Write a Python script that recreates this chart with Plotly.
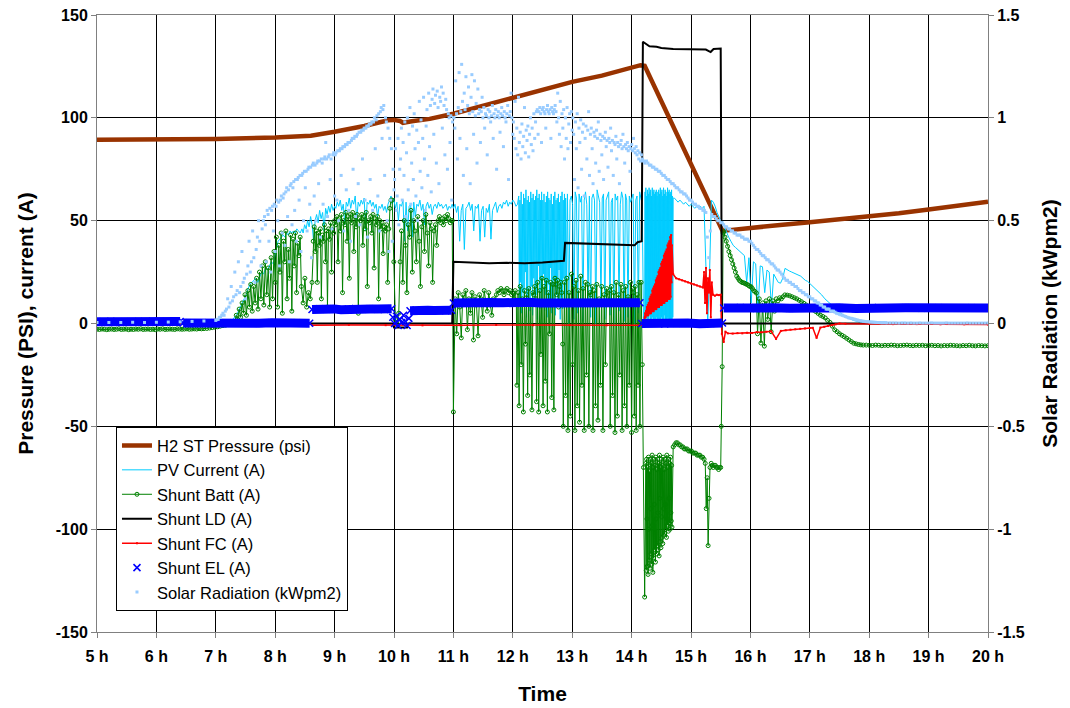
import numpy as np
import plotly.graph_objects as go

# ---- axis ticks -------------------------------------------------------------
tick_hours = list(range(5, 21))
tick_labels = [f"{h} h" for h in tick_hours]
left_ticks = [-150, -100, -50, 0, 50, 100, 150]
left_tick_labels = ["-150", "-100", "-50", "0", "50", "100", "150"]
right_ticks = [-1.5, -1.0, -0.5, 0.0, 0.5, 1.0, 1.5]
right_tick_labels = ["-1.5", "-1", "-0.5", "0", "0.5", "1", "1.5"]

# ---- H2 storage tank pressure (psi) ----------------------------------------
pressure_time = [5.0, 6.0, 6.5, 7.0, 8.0, 8.6, 9.0, 9.5, 9.9, 10.0, 10.1, 10.15, 10.3,
                 10.6, 11.0, 11.5, 12.0, 12.5, 13.0, 13.5, 14.0, 14.15, 14.22, 15.53,
                 15.65, 16.0, 16.5, 17.0, 17.5, 18.0, 18.5, 19.0, 19.5, 20.0]
pressure_psi = [89.3, 89.3, 89.5, 89.7, 90.4, 91.3, 93.2, 96.0, 98.8, 99.0, 98.5, 97.6, 98.3,
                99.5, 102.0, 105.8, 110.0, 113.8, 117.5, 120.5, 124.0, 125.6, 125.3, 45.0,
                45.4, 46.6, 47.9, 49.2, 50.5, 51.9, 53.6, 55.4, 57.3, 59.2]

# ---- load shunt current (A) -------------------------------------------------
ld_time = [5.0, 9.98, 10.0, 10.22, 10.24, 10.98, 11.0, 11.3, 11.6, 11.9, 12.2, 12.5, 12.86,
           12.88, 13.2, 13.5, 13.8, 14.05, 14.1, 14.17, 14.19, 14.25, 14.3, 14.42, 14.5,
           14.7, 15.0, 15.25, 15.33, 15.38, 15.5, 15.52, 20.0]
ld_amps = [0.0, 0.0, -2.0, -2.0, 0.0, 0.0, 30.0, 29.8, 29.3, 29.5, 29.3, 29.6, 30.5,
           39.2, 38.8, 38.5, 38.2, 38.0, 39.5, 40.0, 137.0, 136.0, 134.8, 134.6, 134.0,
           133.5, 133.4, 133.2, 132.0, 133.5, 133.7, 0.0, 0.0]

# Logged blocks: (first hour, last hour, readings taken at an even interval)
pv_blocks = [
    (5.0, 7.2, [0.3, 0.3, 0.3, 0.4, 0.4, 0.5, 0.6, 0.8]),
    (7.25, 8.0, [1, 2, 3, 4, 6, 8, 10, 12, 14, 17, 19, 20, 21, 22, 20, 23, 25, 24, 27, 26, 28, 30, 29, 33]),
    (8.02, 8.45, [36, 40, 41, 42, 43, 42, 44, 43, 45, 44, 45, 44, 46, 45, 44, 46]),
    (8.47, 9.0, [44, 48, 46, 50, 47, 52, 48, 40, 50, 53, 49, 55, 51, 54, 45, 56, 53, 57, 54, 58, 55, 57]),
    (9.02, 9.95, [56, 59, 57, 60, 55, 58, 48, 59, 57, 61, 56, 60, 58, 62, 50, 59, 57, 60, 58, 61, 45,
                  59, 58, 60, 57, 59, 56, 58, 52, 57, 56, 58, 55, 57, 54, 58, 60, 62]),
    (9.97, 10.98, [58, 61, 56, 59, 50, 58, 57, 60, 40, 59, 45, 57, 58, 42, 59, 52, 58, 57, 60, 55,
                   58, 48, 57, 59, 56, 58, 53, 57, 58, 56, 59, 57, 58, 56, 57, 58, 55, 57, 56, 58]),
    (11.0, 12.08, [56, 58, 54, 57, 40, 55, 58, 36, 56, 57, 59, 55, 58, 45, 57, 56, 58, 40, 55, 57, 42,
                   56, 54, 58, 41, 55, 57, 59, 54, 57, 58, 56, 59, 58, 60, 57, 59, 58, 60, 59, 57, 58]),
    (12.1, 12.9, [62, 10, 60, 20, 64, 5, 58, 15, 63, 8, 61, 25, 65, 3, 60, 12, 62, 30, 59, 6,
                  64, 18, 61, 4, 63, 22, 60, 9, 62, 14, 65, 2, 61, 28, 63, 7, 60, 16, 64, 11,
                  60, 24, 63, 6, 59, 14, 62, 3, 64, 19, 61, 8, 60, 27, 63, 5, 58, 12, 62, 21,
                  64, 4, 60, 17, 61, 9, 63, 26, 59, 2, 62, 13, 64, 7, 60, 22, 63, 10, 61, 15]),
    (12.92, 14.2, [63, 0, 60, 62, 58, 2, 64, 61, 5, 63, 59, 62, 1, 60, 64, 58, 10, 62, 3, 61,
                   63, 60, 0, 65, 62, 59, 8, 61, 63, 2, 60, 62, 64, 4, 59, 61, 0, 63, 60, 62,
                   6, 58, 64, 61, 1, 63, 60, 3, 62, 59, 61, 63, 0, 60, 62, 5, 64, 61, 58, 2]),
    (14.22, 14.7, [2, 64, 1, 66, 3, 62, 0, 65, 2, 63, 1, 66, 4, 64, 0, 65, 2, 62, 1, 66,
                   3, 64, 0, 65, 2, 63, 1, 64, 0, 65, 3, 62, 1, 64, 2, 65,
                   1, 63, 2, 66, 0, 64, 3, 65, 1, 62, 2, 66, 0, 63, 4, 65, 1, 64, 2, 62,
                   0, 66, 3, 64, 1, 65, 2, 63, 0, 64, 2, 65, 1, 62, 3, 61]),
    (14.72, 15.5, [61, 60, 59, 60, 59, 58, 59, 58, 57, 58, 57, 56, 57, 56, 57, 56, 57, 30, 0, 25,
                   60, 59, 57, 54, 52, 50]),
    (15.52, 17.0, [50, 47, 44, 42, 40, 38, 37, 36, 35, 34, 33, 20, 32, 10, 30, 29, 5, 28, 27.6, 15,
                   26, 25, 8, 24, 22, 20, 19.6, 22, 26.8, 26, 25.5, 25, 24.5, 24, 23.6, 23, 22, 21,
                   20.5, 19.5]),
    (17.04, 17.95, [18.5, 17, 15.5, 13.9, 12, 10.5, 9, 7.5, 6, 5, 4, 3, 2.2, 1.5, 1, 0.7, 0.5, 0.4]),
    (18.0, 20.0, [0.3, 0.2, 0.2, 0.1, 0.1]),
]

batt_blocks = [
    (5.0, 6.8, [-2.8, -2.9, -2.7, -2.8, -3.0, -2.8, -2.7, -2.9, -2.8, -2.6, -2.9, -2.8, -2.7, -3.0,
                -2.8, -2.9, -2.7, -2.8, -2.6, -2.9, -2.8, -2.7, -2.9, -2.8, -3.0, -2.7, -2.8, -2.6,
                -2.9, -2.8, -2.7, -2.8, -2.9, -2.6, -2.7, -2.8, -2.7, -2.6, -2.8, -2.7, -2.6, -2.7,
                -2.5, -2.6, -2.5]),
    (6.85, 7.3, [-2.4, -2.2, -2.0, -1.8, -1.6, -1.3, -1.0, -0.8, -0.5, -0.2, 0.0]),
    (7.32, 7.98, [1, 4, 2, 7, 3, 10, 5, 14, 4, 16, 8, 19, 6, 18, 10, 22, 7, 25, 12, 28, 9, 30, 14,
                  27, 8, 32, 12, 35]),
    (8.0, 8.42, [20, 42, 8, 38, 25, 44, 5, 40, 30, 45, 12, 36, 22, 43, 6, 41, 28, 44, 15, 39, 33, 42]),
    (8.44, 8.62, [18, 10, 22, 8, 15, 12, 20]),
    (8.64, 9.0, [40, 47, 35, 45, 20, 44, 38, 46, 12, 43, 40, 48, 30, 45, 8, 46, 41, 49, 25, 47, 44, 50]),
    (9.02, 9.95, [48, 52, 30, 51, 45, 53, 15, 50, 48, 54, 40, 52, 22, 53, 49, 54, 35, 52, 47, 53, 5,
                  51, 50, 53, 38, 52, 46, 54, 18, 50, 49, 52, 44, 53, 27, 51, 48, 52, 12, 50, 46, 49,
                  34, 47, 45, 48, 20, 46, 56, 60]),
    (9.97, 10.05, [60, 30, 2, 0]),
    (10.08, 10.97, [5, 30, 45, 20, 50, 38, 15, 48, 42, 55, 25, 50, 45, 30, 52, 40, 18, 47, 50, 35,
                    53, 44, 28, 49, 46, 20, 45, 48, 38, 50, 52, 49, 51, 48, 52, 50, 53, 51, 49, 50]),
    (10.98, 11.02, [50, -43, 10]),
    (11.03, 11.98, [12, -5, 15, 8, -7, 14, 10, 16, -3, 12, 5, 15, -8, 13, 9, -6, 14, 12, 3, 16, 11,
                    6, 15, 9, 4, 12, 10, 14, 16, 15, 17, 16, 14, 16, 17, 15, 16, 14]),
    (12.0, 12.06, [15, 12, 16, 10]),
    (12.07, 12.34, [-30, 15, -40, 18, -20, 12, -43, 16, -10, 14, -35, 17, -25, 10, -42, 15]),
    (12.35, 12.39, [14, 18, 12]),
    (12.40, 12.71, [-38, 20, -43, 16, -15, 22, -40, 18, -28, 21, -43, 15, -5, 20, -36, 19, -42, 22]),
    (12.72, 12.84, [19, 14, 21, 8, 18, 20, 15, -10]),
    (12.85, 13.30, [-50, 20, -35, 22, -52, 15, -45, 24, -20, 18, -52, 21, -40, 16, -48, 23, -30, 17,
                    -52, 20, -25, 19, -50, 15]),
    (13.31, 13.34, [14, 18]),
    (13.35, 13.58, [-52, 16, -40, 19, -47, 12, -30, 18, -52, 14, -20, 17]),
    (13.59, 13.63, [15, 11, 16]),
    (13.64, 14.02, [-50, 18, -35, 15, -53, 20, -45, 14, -25, 19, -52, 16, -40, 18, -50, 13, -30, 20,
                    -53, 17]),
    (14.03, 14.14, [15, -45, 18, -52, 14, -30, 20, -50]),
    (14.16, 14.22, [20, -20, -70, -133]),
    (14.24, 14.68, [-68, -120, -66, -95, -118, -70, -122, -65, -100, -115, -72, -119, -66, -90, -112,
                    -68, -117, -64, -98, -121, -70, -114, -66, -88, -110, -69, -116, -65, -95, -112,
                    -71, -108, -66, -92, -110, -68, -113, -64, -85, -106, -70, -109, -66, -94, -104,
                    -69, -107, -65, -90, -103, -71, -102, -66, -88, -100, -68, -104, -64, -95, -98,
                    -70, -101, -66, -85, -97, -68, -100, -65, -92, -96, -69, -99]),
    (14.7, 15.22, [-60, -59, -58, -58, -59, -59, -60, -60, -61, -61, -61, -62, -62, -62, -63, -63,
                   -63, -64, -64, -64, -65, -65, -66]),
    (15.24, 15.32, [-68, -90, -75, -108, -85, -70]),
    (15.34, 15.5, [-68, -69, -70, -69, -69, -70, -70, -71, -70, -70]),
    (15.51, 15.54, [-50, -21, 44]),
    (15.55, 16.1, [44.6, 42, 40, 37.5, 35, 33, 31, 29, 27, 25, 23, 22, 21, 20.5, 20, 19.8, 19.6,
                   19.2, 19, 18.5, 18, 17.9, 17, 16, 15.5, 14.8]),
    (16.12, 16.55, [-5, 12, -9.5, 10, -11, 11, 2, 12, -4, 11, 6, 12, 11, 12.5, 12, 13]),
    (16.58, 17.9, [13.9, 13.8, 13.5, 13, 12.5, 12, 11.3, 10.6, 9.8, 9, 8.3, 7.5, 6.6, 5.8, 4.9, 4,
                   3.4, 2.7, 1.5, 0.5, -1.3, -3.1, -4, -5, -5.7, -6.4, -7.2, -8, -8.8, -9.6, -9.9,
                   -10.2, -10.4, -10.5]),
    (17.95, 20.0, [-10.5, -10.6, -10.7, -10.5, -10.6, -10.8, -10.6, -10.7, -10.5, -10.6, -10.8, -10.7,
                   -10.6, -10.5, -10.7, -10.8, -10.6, -10.7, -10.6, -10.8, -10.7, -10.6, -10.8, -10.7,
                   -10.9, -10.7, -10.8, -10.6, -10.7, -10.8, -10.9, -10.7, -10.8, -10.6, -10.8, -10.9,
                   -10.7, -10.8, -10.9, -10.8]),
]

fc_blocks = [
    (5.0, 8.58, [0.0, 0.1, 0.0, 0.1, 0.0]),
    (8.62, 14.2, [-0.8, -0.7, -0.8, -0.9, -0.8, -0.7, -0.8, -0.8, -0.9, -0.8]),
    (14.22, 14.68, [3, 5, 3, 6, 4, 8, 4, 9, 4, 10, 5, 12, 5, 13, 5, 14, 6, 16, 6, 17, 6, 18, 7, 19,
                    7, 21, 7, 22, 8, 23, 8, 25, 8, 26, 9, 27, 9, 29, 9, 30, 10, 31, 10, 33, 10, 34,
                    11, 35, 11, 36, 11, 38, 12, 39, 12, 40, 12, 42, 13, 43, 20, 38]),
    (14.7, 15.2, [24, 22, 21.5, 21, 20.5, 20, 19.5, 19, 18.5, 18, 17.5]),
    (15.22, 15.35, [25, 10, 27, 5, 22, 15, 26, 3, 20]),
    (15.37, 15.5, [14, 13.5, 14, 13.8, 14]),
    (15.52, 15.58, [-5, -9, -4]),
    (15.62, 17.0, [-4.8, -4.9, -4.7, -4.8, -4.5, -4.6, -4.2, -4.3, -4.0, -3.8, -7.5, -3.6, -3.3, -3.0,
                   -2.8, -2.6, -2.4, -2.2]),
    (17.05, 17.5, [-2.1, -7, -2.0, -1.6, -1.2, -0.8, -0.4, 0.0]),
    (17.6, 20.0, [-0.1, -0.2, -0.3, -0.3, -0.4, -0.4, -0.5]),
]

# Electrolyser current: steady levels, then the short switching burst around 10 h
el_blocks = [
    (5.0, 6.4, [0.9, 1.1, 0.8, 1.0, 1.1, 0.9, 1.0]),
    (6.45, 8.58, [0.3, 0.1, 0.4, 0.0, 0.3, 0.2, 0.1, 0.4, 0.2, 0.3, 0.1]),
    (8.62, 9.96, [6.8, 7.2, 6.9, 7.1, 6.7, 7.0, 7.3, 6.9, 7.1, 7.0, 6.8, 7.2]),
    (10.27, 10.97, [6.2, 6.5, 6.1, 6.4, 6.3, 6.6, 6.2, 6.4]),
    (11.0, 14.14, [10.0, 10.4, 9.8, 10.2, 10.1, 9.7, 10.3, 10.0, 9.9, 10.2, 10.1, 9.8, 10.0, 10.3,
                   9.9, 10.1]),
    (14.17, 15.53, [0.0, 0.3, -0.2, 0.1, 0.2, -0.1, 0.0, 0.2]),
    (15.55, 20.0, [7.5, 7.8, 7.3, 7.6, 7.4, 7.7, 7.5, 7.6, 7.3, 7.8, 7.5, 7.6, 7.4, 7.7, 7.5, 7.6, 7.5]),
]
el_burst_time = [9.98, 10.01, 10.04, 10.07, 10.1, 10.13, 10.16, 10.19, 10.22, 10.25]
el_burst_amps = [3.0, 0.0, 3.5, -1.0, 2.0, 0.5, 4.0, 1.0, -1.0, 2.5]

# Solar radiation (kW/m2)
solar_blocks = [
    (5.0, 7.0, [0.005, 0.005, 0.005, 0.006, 0.005, 0.006, 0.007, 0.008, 0.01, 0.012, 0.015]),
    (7.02, 7.8, [0.02, 0.02, 0.03, 0.03, 0.04, 0.05, 0.04, 0.06, 0.07, 0.12, 0.08, 0.10, 0.18, 0.11,
                 0.13, 0.25, 0.14, 0.16, 0.30, 0.15, 0.18, 0.35, 0.20, 0.22, 0.12, 0.24, 0.28, 0.40,
                 0.25, 0.30, 0.45, 0.32, 0.20, 0.36, 0.42, 0.50, 0.40, 0.28, 0.46, 0.50]),
    (7.82, 9.0, [0.52, 0.48, 0.30, 0.55, 0.53, 0.40, 0.56, 0.25, 0.55, 0.57, 0.45, 0.58, 0.35, 0.57,
                 0.60, 0.50, 0.59, 0.28, 0.60, 0.62, 0.44, 0.61, 0.63, 0.38, 0.64, 0.66, 0.52, 0.65,
                 0.30, 0.67, 0.68, 0.48, 0.66, 0.69, 0.55, 0.70, 0.40, 0.70, 0.71, 0.60, 0.72, 0.35,
                 0.72, 0.73, 0.50, 0.74, 0.66, 0.74, 0.45, 0.75, 0.76, 0.58, 0.76, 0.32, 0.77, 0.78,
                 0.62, 0.77, 0.50, 0.78, 0.79, 0.68, 0.79, 0.42, 0.80, 0.78, 0.58, 0.80, 0.81, 0.88,
                 0.80, 0.52, 0.81, 0.82, 0.70, 0.80, 0.46, 0.82, 0.83, 0.62]),
    (9.01, 10.0, [0.82, 0.83, 0.60, 0.84, 0.50, 0.84, 0.85, 0.72, 0.85, 0.86, 0.45, 0.86, 0.87, 0.65,
                  0.87, 0.88, 0.55, 0.88, 0.40, 0.89, 0.90, 0.75, 0.90, 0.91, 0.52, 0.91, 0.92, 0.68,
                  0.93, 0.48, 0.93, 0.94, 0.80, 0.94, 0.95, 0.60, 0.95, 0.96, 0.42, 0.96, 0.97, 0.70,
                  0.97, 0.98, 0.55, 0.98, 1.00, 0.85, 0.99, 1.01, 0.62, 1.02, 0.45, 1.03, 1.05, 0.90,
                  1.04, 1.06, 0.72, 1.00, 0.98, 0.50, 0.95, 0.35, 0.90, 0.60, 0.85, 0.40, 0.75, 0.65]),
    (10.01, 11.0, [0.70, 0.85, 0.55, 0.62, 0.90, 0.48, 0.75, 0.80, 0.95, 0.60, 0.88, 0.72, 0.98, 0.52,
                   0.83, 1.00, 0.65, 0.92, 1.05, 0.58, 0.78, 0.96, 0.70, 1.02, 0.85, 0.62, 0.94, 0.50,
                   0.88, 1.08, 0.74, 0.99, 0.66, 0.90, 1.10, 0.80, 0.55, 0.96, 1.04, 0.72, 1.12, 0.86,
                   1.06, 0.64, 1.09, 1.14, 0.92, 1.07, 1.11, 0.78, 1.13, 1.05, 0.68, 1.10, 1.08, 1.15,
                   0.95, 1.12, 1.06, 0.82, 1.09, 1.04, 0.75, 1.02, 1.00, 0.88, 1.01, 0.60, 0.98, 1.00]),
    (11.01, 12.0, [1.00, 0.95, 1.18, 1.02, 0.80, 1.05, 1.22, 0.90, 1.03, 1.26, 1.08, 0.72, 1.12, 1.04,
                   1.20, 0.85, 1.06, 1.15, 1.02, 0.68, 1.10, 1.21, 1.03, 0.92, 1.18, 1.01, 1.07, 0.78,
                   1.14, 1.02, 1.04, 0.88, 1.03, 1.10, 1.00, 1.05, 0.95, 1.02, 1.01, 0.82, 1.04, 1.00,
                   1.03, 0.98, 1.01, 1.06, 0.90, 1.02, 1.00, 1.04, 0.75, 1.01, 1.03, 1.00, 0.93, 1.02,
                   1.05, 1.01, 0.86, 1.03, 1.00, 0.98, 1.02, 1.06, 0.70, 1.01, 1.03, 1.12, 1.00, 0.92]),
    (12.01, 13.0, [0.98, 0.90, 1.08, 0.85, 0.95, 0.82, 1.10, 0.88, 0.93, 0.80, 0.97, 0.86, 0.91, 1.05,
                   0.83, 0.94, 0.89, 0.96, 0.81, 0.92, 1.00, 0.87, 0.95, 0.84, 1.02, 0.90, 0.98, 1.03,
                   1.04, 0.92, 1.03, 1.05, 1.02, 0.88, 1.04, 1.05, 1.03, 1.02, 0.95, 1.04, 1.06, 1.03,
                   1.02, 1.04, 0.90, 1.05, 1.03, 1.02, 1.04, 1.06, 1.03, 0.98, 1.12, 1.00, 0.92, 1.08,
                   0.86, 1.02, 0.95, 1.04, 0.80, 1.00, 0.90, 1.05, 0.85, 0.97, 1.02, 0.88, 1.03, 0.94]),
    (13.01, 14.18, [1.00, 0.92, 0.70, 0.98, 0.85, 1.02, 0.66, 0.95, 0.88, 0.99, 0.75, 0.93, 0.97, 0.62,
                    0.90, 0.96, 0.80, 0.94, 1.03, 0.72, 0.92, 0.95, 0.85, 0.68, 0.93, 0.91, 0.78, 0.94,
                    0.90, 0.98, 0.74, 0.92, 0.89, 0.82, 0.91, 0.70, 0.90, 0.93, 0.86, 0.89, 0.76, 0.90,
                    0.88, 0.95, 0.84, 0.89, 0.72, 0.88, 0.87, 0.91, 0.80, 0.88, 0.86, 0.68, 0.87, 0.89,
                    0.85, 0.92, 0.86, 0.78, 0.87, 0.85, 0.88, 0.84, 0.86, 0.74, 0.85, 0.87, 0.84, 0.90,
                    0.85, 0.83, 0.86, 0.82, 0.84, 0.80, 0.83, 0.79, 0.82, 0.80]),
    (14.2, 15.55, [0.79, 0.78, 0.79, 0.78, 0.77, 0.77, 0.76, 0.76, 0.75, 0.75, 0.74, 0.74, 0.73, 0.72,
                   0.72, 0.71, 0.70, 0.70, 0.69, 0.68, 0.68, 0.67, 0.66, 0.66, 0.65, 0.64, 0.64, 0.63,
                   0.63, 0.62, 0.61, 0.60, 0.60, 0.59, 0.58, 0.58, 0.57, 0.57, 0.56, 0.56, 0.55, 0.55,
                   0.54, 0.42, 0.32, 0.45, 0.53, 0.52, 0.52, 0.51, 0.50, 0.50, 0.49, 0.49, 0.48]),
    (15.575, 18.3, [0.47, 0.47, 0.46, 0.46, 0.45, 0.45, 0.44, 0.44, 0.43, 0.43, 0.43, 0.42, 0.42, 0.41,
                    0.41, 0.41, 0.40, 0.40,
                    0.39, 0.38, 0.37, 0.36, 0.36, 0.35, 0.34, 0.33, 0.33, 0.32, 0.31, 0.31,
                    0.30, 0.29, 0.29, 0.28, 0.27, 0.26, 0.26, 0.25, 0.24, 0.23, 0.22, 0.21,
                    0.21, 0.20, 0.20, 0.19, 0.19, 0.18, 0.18, 0.17, 0.16, 0.16, 0.15, 0.15, 0.14, 0.14,
                    0.13, 0.13,
                    0.12, 0.12, 0.11, 0.11, 0.10, 0.10, 0.09, 0.09, 0.08, 0.08, 0.07, 0.07, 0.07, 0.06,
                    0.06, 0.06,
                    0.055, 0.05, 0.048, 0.045, 0.042, 0.04, 0.037, 0.034, 0.031, 0.028, 0.026, 0.025,
                    0.023, 0.021, 0.019, 0.017, 0.015, 0.014, 0.012, 0.011, 0.010, 0.009, 0.009, 0.008,
                    0.007, 0.007, 0.006, 0.006, 0.005, 0.005, 0.005, 0.004, 0.004, 0.004, 0.004, 0.003]),
    (18.35, 20.0, [0.003, 0.003, 0.003, 0.002, 0.003, 0.003, 0.002, 0.003, 0.002, 0.002, 0.003, 0.002,
                   0.002, 0.002, 0.003, 0.002, 0.002, 0.002, 0.002, 0.003, 0.002, 0.002, 0.002, 0.002,
                   0.002, 0.002, 0.003, 0.002, 0.002, 0.002, 0.002, 0.002, 0.002, 0.002]),
]


def expand(blocks, gaps=False):
    """Turn evenly logged blocks into flat time / value lists."""
    t, v = [], []
    for t0, t1, vals in blocks:
        t.extend(np.linspace(t0, t1, len(vals)).tolist())
        v.extend(vals)
        if gaps:
            t.append(None)
            v.append(None)
    return t, v


pv_t, pv_v = expand(pv_blocks)
batt_t, batt_v = expand(batt_blocks)
fc_t, fc_v = expand(fc_blocks)
el_band_t, el_band_v = expand(el_blocks, gaps=True)
el_t, el_v = expand(el_blocks)
el_t += el_burst_time
el_v += el_burst_amps
sol_t, sol_v = expand(solar_blocks)

AXIS_FONT = "Liberation Sans, Arial, sans-serif"
TEXT_FONT = "Liberation Sans, Arial, sans-serif"

fig = go.Figure()

fig.add_trace(go.Scatter(x=pressure_time, y=pressure_psi, mode="lines",
                         name="H2 ST Pressure (psi)", line=dict(color="#993300", width=4.5)))
fig.add_trace(go.Scatter(x=pv_t, y=pv_v, mode="lines", name="PV Current (A)",
                         line=dict(color="#00CCFF", width=1)))
fig.add_trace(go.Scatter(x=batt_t, y=batt_v, mode="lines+markers", name="Shunt Batt (A)",
                         line=dict(color="#008000", width=1),
                         marker=dict(symbol="circle-open", size=4, color="#008000",
                                     line=dict(width=1, color="#008000"))))
fig.add_trace(go.Scatter(x=ld_time, y=ld_amps, mode="lines", name="Shunt LD (A)",
                         line=dict(color="black", width=2)))
fig.add_trace(go.Scatter(x=fc_t, y=fc_v, mode="lines+markers", name="Shunt FC (A)",
                         line=dict(color="#FF0000", width=1.5),
                         marker=dict(symbol="square", size=2, color="#FF0000")))
fig.add_trace(go.Scatter(x=el_band_t, y=el_band_v, mode="lines", showlegend=False,
                         legendgroup="el", hoverinfo="skip",
                         line=dict(color="#0000FF", width=9)))
fig.add_trace(go.Scatter(x=el_t, y=el_v, mode="markers", name="Shunt EL (A)",
                         legendgroup="el",
                         marker=dict(symbol="x-thin-open", size=7, color="#0000FF",
                                     line=dict(width=1.5, color="#0000FF"))))
fig.add_trace(go.Scatter(x=sol_t, y=sol_v, mode="markers", name="Solar Radiation (kWpm2)",
                         yaxis="y2", marker=dict(symbol="square", size=3, color="#99CCFF")))

tickfont = dict(family=AXIS_FONT, size=16, color="black", weight="bold")
titlefont = dict(family=AXIS_FONT, size=21, color="black", weight="bold")

fig.update_layout(
    width=1070, height=708,
    margin=dict(l=97, r=82, t=15, b=76),
    paper_bgcolor="white", plot_bgcolor="white",
    legend=dict(x=0.0213, y=0.332, xanchor="left", yanchor="top", bgcolor="white",
                bordercolor="black", borderwidth=1, tracegroupgap=0,
                font=dict(family=TEXT_FONT, size=16.5, color="black")),
    xaxis=dict(range=[5, 20], tickvals=tick_hours, ticktext=tick_labels, tickfont=tickfont,
               showgrid=True, gridcolor="black", gridwidth=1, zeroline=False,
               showline=True, linecolor="#808080", mirror=True, ticks="outside", ticklen=5,
               tickcolor="#808080", automargin=False, ticklabelstandoff=5,
               title=dict(text="Time", font=titlefont, standoff=22)),
    yaxis=dict(range=[-150, 150], tickvals=left_ticks, ticktext=left_tick_labels,
               tickfont=tickfont,
               showgrid=True, gridcolor="black", gridwidth=1, zeroline=False,
               showline=True, linecolor="#808080", ticks="outside", ticklen=5,
               tickcolor="#808080", automargin=False,
               title=dict(text="Pressure (PSI), current (A)", font=titlefont, standoff=16)),
    yaxis2=dict(range=[-1.5, 1.5], tickvals=right_ticks, ticktext=right_tick_labels,
                tickfont=tickfont, overlaying="y", side="right", showgrid=False,
                zeroline=False, showline=True, linecolor="#808080", ticks="outside",
                ticklen=5, tickcolor="#808080", automargin=False,
                title=dict(text="Solar Radiation (kWpm2)", font=titlefont, standoff=18)),
)

fig.write_html("out.html")
